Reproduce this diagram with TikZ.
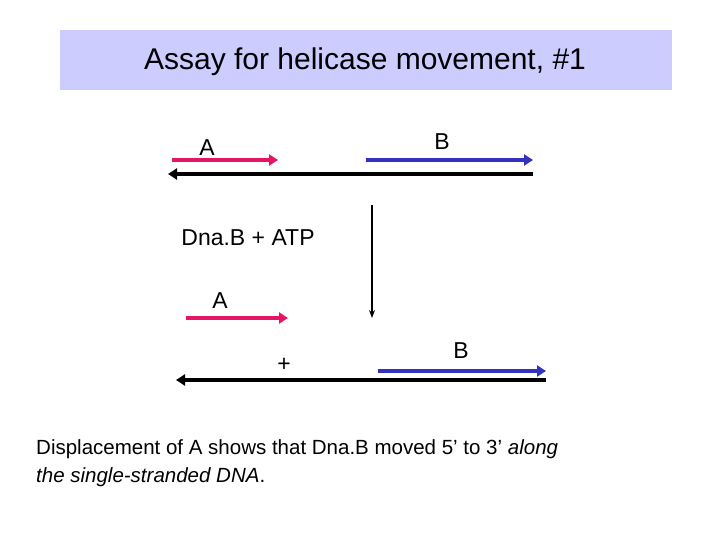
\documentclass[tikz,border=0pt]{standalone}
\usepackage{fontspec}
\setmainfont{Liberation Sans}
\usetikzlibrary{arrows.meta}
\definecolor{tbg}{RGB}{204,204,255}
\definecolor{pinkc}{RGB}{230,20,100}
\definecolor{bluec}{RGB}{50,50,190}
\tikzset{strand/.style={line width=3.5pt,-{Triangle[length=9pt,width=11pt]}},
lbl/.style={font=\fontsize{23}{27}\selectfont,inner sep=0pt}}
\begin{document}
\begin{tikzpicture}[x=1pt,y=-1pt]
\useasboundingbox (0,0) rectangle (720,540);
\node[fill=tbg,minimum width=612pt,minimum height=60pt,anchor=north west,inner sep=0pt] (title) at (60,30) {};
\node[font=\fontsize{30}{34}\selectfont] (tt) at (365,62) {Assay for helicase movement, \#1};
\coordinate (t1) at (533,174); \coordinate (t2) at (168,174);
\draw[strand,black] (t1) -- (t2);
\coordinate (a1) at (172,160); \coordinate (a2) at (278,160);
\draw[strand,pinkc] (a1) -- (a2);
\coordinate (b1) at (366,160); \coordinate (b2) at (533,160);
\draw[strand,bluec] (b1) -- (b2);
\node[lbl] (A1) at (207,148) {A};
\node[lbl] (B1) at (442,142) {B};
\node[lbl] (dna) at (248,238) {Dna.B + ATP};
\coordinate (v1) at (372,205); \coordinate (v2) at (372,318);
\draw[line width=1.2pt,-{Stealth[length=8pt,width=6pt]}] (v1) -- (v2);
\node[lbl] (A2) at (220,301) {A};
\coordinate (a3) at (186,318); \coordinate (a4) at (288,318);
\draw[strand,pinkc] (a3) -- (a4);
\node[lbl] (plus) at (284,365) {+};
\node[lbl] (B2) at (461,351) {B};
\coordinate (b3) at (378,371); \coordinate (b4) at (546,371);
\draw[strand,bluec] (b3) -- (b4);
\coordinate (t3) at (546,380); \coordinate (t4) at (176,380);
\draw[strand,black] (t3) -- (t4);
\node[anchor=west,font=\fontsize{20.5}{24}\selectfont,inner sep=0pt] (l1) at (36,449) {Displacement of A shows that Dna.B moved 5’ to 3’ \textit{along}};
\node[anchor=west,font=\fontsize{20.5}{24}\selectfont,inner sep=0pt] (l2) at (36,477) {\textit{the single-stranded DNA}.};
\end{tikzpicture}
\end{document}
